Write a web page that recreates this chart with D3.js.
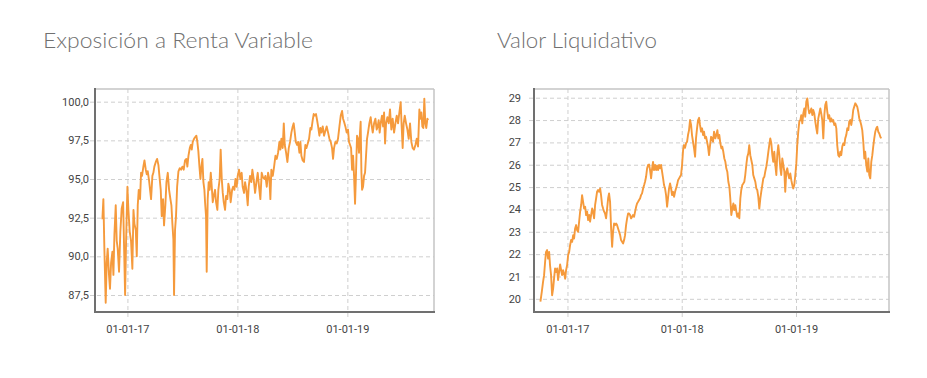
<!DOCTYPE html>
<html><head><meta charset="utf-8">
<script src="https://cdn.jsdelivr.net/npm/d3@7"></script>
<style>body{margin:0;background:#fff}</style>
</head><body><svg id="c" width="927" height="378"></svg>
<script>
// ---------- DATA ----------
const titles = ["Exposición a Renta Variable", "Valor Liquidativo"];

// Exposición a Renta Variable (%), dates as decimal years
const expYears = [
2016.773,2016.782,2016.791,2016.803,2016.812,2016.821,2016.833,2016.842,2016.852,2016.864,2016.873,2016.882,2016.894,2016.903,2016.912,2016.924,2016.936,2016.948,2016.961,2016.970,2016.979,2016.988,
2017.000,2017.009,2017.021,2017.033,2017.045,2017.055,2017.064,2017.076,2017.085,2017.094,2017.103,2017.115,2017.124,2017.133,2017.145,2017.155,2017.167,2017.176,2017.185,2017.197,2017.206,2017.215,2017.227,2017.236,2017.245,2017.258,2017.270,2017.282,2017.291,2017.303,2017.312,2017.324,2017.333,2017.345,2017.355,2017.367,2017.379,2017.391,2017.400,2017.409,2017.418,2017.424,2017.433,2017.442,2017.452,2017.464,2017.476,2017.488,2017.500,2017.512,2017.524,2017.536,2017.545,2017.555,2017.567,2017.576,2017.585,2017.594,2017.606,2017.615,2017.627,2017.636,2017.645,2017.655,2017.664,2017.673,2017.682,2017.691,2017.700,2017.706,2017.715,2017.721,2017.730,2017.739,2017.748,2017.758,2017.767,2017.776,2017.785,2017.797,2017.806,2017.818,2017.827,2017.839,2017.848,2017.858,2017.867,2017.876,2017.888,2017.897,2017.909,2017.918,2017.930,2017.939,2017.952,2017.961,2017.973,2017.982,2017.994,
2018.003,2018.015,2018.027,2018.039,2018.048,2018.061,2018.070,2018.082,2018.094,2018.103,2018.115,2018.127,2018.136,2018.148,2018.161,2018.173,2018.185,2018.197,2018.209,2018.221,2018.233,2018.245,2018.255,2018.267,2018.279,2018.291,2018.300,2018.309,2018.322,2018.334,2018.346,2018.358,2018.370,2018.382,2018.391,2018.400,2018.412,2018.422,2018.431,2018.443,2018.455,2018.467,2018.479,2018.491,2018.503,2018.512,2018.522,2018.531,2018.543,2018.552,2018.564,2018.573,2018.582,2018.594,2018.606,2018.618,2018.628,2018.640,2018.652,2018.664,2018.673,2018.685,2018.694,2018.703,2018.715,2018.725,2018.734,2018.746,2018.755,2018.764,2018.776,2018.788,2018.800,2018.812,2018.825,2018.837,2018.849,2018.861,2018.870,2018.879,2018.891,2018.903,2018.915,2018.928,2018.940,2018.952,2018.961,2018.970,2018.982,2018.994,
2019.006,2019.015,2019.025,2019.034,2019.043,2019.052,2019.061,2019.070,2019.079,2019.088,2019.097,2019.106,2019.115,2019.121,2019.128,2019.134,2019.143,2019.152,2019.161,2019.170,2019.179,2019.188,2019.200,2019.212,2019.222,2019.231,2019.243,2019.255,2019.267,2019.276,2019.285,2019.294,2019.303,2019.315,2019.325,2019.334,2019.343,2019.352,2019.364,2019.376,2019.388,2019.400,2019.412,2019.425,2019.437,2019.449,2019.461,2019.473,2019.485,2019.494,2019.503,2019.512,2019.522,2019.534,2019.546,2019.558,2019.570,2019.582,2019.594,2019.606,2019.619,2019.631,2019.643,2019.655,2019.664,2019.673,2019.682,2019.691,2019.700,2019.709,2019.718,2019.728,2019.734];
const expValues = [
92.4,93.7,90.5,87.0,89.6,90.5,88.8,87.9,89.6,90.3,88.8,91.4,93.3,91.0,90.5,89.0,91.6,93.1,93.5,90.5,87.5,91.0,
94.5,93.0,91.6,91.0,89.2,93.0,92.1,91.7,90.0,93.3,94.3,93.7,95.4,95.2,95.8,96.2,95.6,95.3,95.5,94.9,94.3,93.7,95.2,95.4,95.8,96.1,96.3,95.9,95.2,94.3,92.6,93.7,92.0,93.3,94.8,95.4,94.3,93.7,93.3,92.1,91.1,87.5,91.7,92.6,94.5,95.5,95.7,95.6,95.8,95.6,96.2,96.3,95.8,96.5,97.0,97.2,96.9,97.4,97.6,97.7,97.8,97.4,96.8,95.8,95.0,95.8,96.3,94.8,94.3,93.5,92.6,89.0,93.7,94.8,94.3,95.4,94.5,93.5,93.9,94.3,93.5,93.0,94.3,95.0,96.9,95.0,94.1,93.5,93.0,93.9,93.7,94.7,94.3,93.5,94.3,94.5,94.3,95.0,94.5,
95.2,95.6,95.0,95.4,94.5,94.1,94.8,94.3,93.3,94.5,95.2,94.8,95.6,95.0,94.1,94.8,95.4,94.5,93.7,95.4,95.1,95.0,95.2,94.5,95.4,95.0,93.7,95.6,95.2,95.8,96.5,96.3,96.7,97.4,96.9,97.6,97.0,98.6,97.2,96.7,96.1,97.0,97.4,98.0,98.4,98.6,98.0,97.4,97.2,97.4,96.7,97.4,96.5,96.2,96.1,97.2,97.0,97.3,97.6,98.3,98.2,98.8,99.2,99.1,99.2,98.8,98.4,97.8,98.3,98.0,98.4,97.8,98.1,98.4,98.0,97.6,97.4,97.0,96.3,97.0,97.4,97.3,97.6,98.4,99.1,99.4,98.9,98.7,98.4,98.0,
98.2,97.4,97.2,97.0,95.6,96.5,95.2,93.4,95.4,97.8,97.6,96.7,98.0,98.7,95.4,94.3,94.5,95.2,95.4,96.5,97.6,98.0,98.6,99.0,98.4,98.0,98.6,98.9,98.2,98.4,98.8,98.0,98.6,99.1,98.4,99.3,97.3,98.6,99.0,98.6,99.5,98.2,98.9,98.0,98.6,99.1,98.6,99.3,99.96,98.4,97.0,98.6,99.1,98.6,98.2,97.6,98.6,97.4,97.0,96.9,97.2,97.6,97.1,99.5,98.9,99.3,98.4,98.3,100.2,98.6,98.3,98.9,98.8];

// Valor Liquidativo, dates as decimal years
const nlvYears = [
2016.764,2016.776,2016.787,2016.796,2016.805,2016.813,2016.822,2016.831,2016.840,2016.848,2016.857,2016.866,2016.875,2016.883,2016.892,2016.901,2016.910,2016.918,2016.927,2016.936,2016.945,2016.953,2016.962,2016.971,2016.980,2016.988,2016.997,
2017.006,2017.015,2017.023,2017.032,2017.041,2017.050,2017.058,2017.067,2017.076,2017.085,2017.093,2017.102,2017.111,2017.120,2017.128,2017.137,2017.146,2017.155,2017.163,2017.172,2017.181,2017.190,2017.198,2017.207,2017.216,2017.224,2017.233,2017.242,2017.251,2017.259,2017.268,2017.277,2017.286,2017.294,2017.303,2017.312,2017.321,2017.329,2017.338,2017.347,2017.356,2017.364,2017.373,2017.382,2017.391,2017.399,2017.408,2017.417,2017.426,2017.434,2017.443,2017.452,2017.461,2017.469,2017.478,2017.487,2017.496,2017.504,2017.513,2017.522,2017.531,2017.539,2017.548,2017.557,2017.566,2017.574,2017.583,2017.592,2017.601,2017.609,2017.618,2017.627,2017.636,2017.644,2017.653,2017.662,2017.671,2017.679,2017.688,2017.697,2017.706,2017.714,2017.723,2017.732,2017.741,2017.749,2017.758,2017.767,2017.776,2017.784,2017.793,2017.802,2017.810,2017.819,2017.828,2017.837,2017.845,2017.854,2017.863,2017.872,2017.880,2017.889,2017.898,2017.907,2017.915,2017.924,2017.933,2017.942,2017.950,2017.959,2017.968,2017.977,2017.985,2017.994,
2018.003,2018.012,2018.020,2018.029,2018.038,2018.047,2018.055,2018.064,2018.073,2018.082,2018.090,2018.099,2018.108,2018.117,2018.125,2018.134,2018.143,2018.152,2018.160,2018.169,2018.178,2018.187,2018.195,2018.204,2018.213,2018.222,2018.230,2018.239,2018.248,2018.257,2018.265,2018.274,2018.283,2018.294,2018.303,2018.312,2018.320,2018.329,2018.338,2018.347,2018.355,2018.364,2018.373,2018.382,2018.390,2018.399,2018.408,2018.417,2018.425,2018.434,2018.443,2018.452,2018.460,2018.469,2018.478,2018.486,2018.495,2018.504,2018.513,2018.521,2018.530,2018.539,2018.548,2018.556,2018.565,2018.574,2018.583,2018.591,2018.600,2018.609,2018.618,2018.626,2018.635,2018.644,2018.653,2018.661,2018.670,2018.679,2018.688,2018.696,2018.705,2018.714,2018.723,2018.731,2018.740,2018.749,2018.758,2018.766,2018.775,2018.784,2018.793,2018.801,2018.810,2018.819,2018.828,2018.836,2018.845,2018.854,2018.863,2018.871,2018.880,2018.889,2018.898,2018.906,2018.915,2018.924,2018.933,2018.941,2018.950,2018.959,2018.968,2018.976,2018.985,2018.994,
2019.003,2019.011,2019.020,2019.029,2019.038,2019.046,2019.055,2019.064,2019.073,2019.081,2019.090,2019.099,2019.108,2019.116,2019.125,2019.134,2019.143,2019.151,2019.160,2019.169,2019.178,2019.186,2019.195,2019.204,2019.213,2019.221,2019.230,2019.239,2019.248,2019.256,2019.265,2019.274,2019.283,2019.291,2019.300,2019.309,2019.318,2019.326,2019.335,2019.344,2019.353,2019.361,2019.370,2019.379,2019.388,2019.396,2019.405,2019.414,2019.423,2019.431,2019.440,2019.449,2019.458,2019.466,2019.475,2019.484,2019.493,2019.501,2019.510,2019.519,2019.528,2019.536,2019.545,2019.554,2019.563,2019.571,2019.580,2019.589,2019.598,2019.606,2019.615,2019.624,2019.633,2019.641,2019.650,2019.659,2019.668,2019.676,2019.685,2019.694,2019.703,2019.711,2019.720,2019.729,2019.738,2019.746];
const nlvValues = [
19.87,20.31,20.76,21.06,21.66,22.10,22.18,21.80,22.10,21.50,21.06,20.16,20.46,20.90,21.36,21.20,21.36,20.84,21.20,21.54,21.28,21.06,21.28,21.13,20.90,21.28,21.51,
21.96,22.10,22.40,22.63,22.55,22.85,22.70,23.15,23.30,23.07,23.00,23.45,23.90,24.20,24.64,24.34,24.04,24.12,23.75,23.90,23.52,23.75,23.45,23.75,24.04,23.90,23.60,24.20,24.50,24.79,24.87,24.79,24.94,24.64,24.20,24.04,23.90,23.82,23.60,24.04,24.50,24.72,24.34,23.15,22.33,23.00,23.37,23.30,23.37,23.30,23.15,23.00,22.85,22.63,22.55,22.48,22.63,22.85,23.30,23.60,23.82,23.82,23.75,23.60,23.67,23.75,23.67,23.90,24.12,24.27,24.34,24.42,24.50,24.64,24.72,24.94,25.09,25.24,25.46,25.84,25.99,26.01,25.76,25.39,25.84,26.13,25.76,25.99,25.76,25.96,25.76,25.99,25.84,25.99,25.69,25.39,25.09,24.94,24.64,24.12,24.50,24.94,25.16,24.94,24.64,24.79,24.57,24.79,24.94,25.09,25.31,25.39,25.46,25.54,
25.99,26.66,26.88,26.76,26.96,27.03,27.33,27.55,28.00,27.78,27.33,27.03,26.73,26.36,27.18,27.63,28.00,28.10,27.78,27.48,27.63,27.33,27.48,27.18,27.25,27.03,26.81,26.43,26.88,27.25,27.20,27.03,27.48,27.18,27.33,27.55,27.18,27.33,26.96,26.73,26.81,26.58,26.28,26.13,25.84,25.69,25.24,25.01,24.49,23.75,24.04,24.27,23.97,24.19,23.90,23.67,23.82,23.60,24.49,24.87,25.09,25.16,25.24,25.54,25.99,26.36,26.51,26.88,26.43,26.21,25.99,25.54,25.39,25.24,24.94,24.87,24.57,24.04,24.49,24.79,25.09,25.39,25.46,25.69,25.91,26.21,26.58,26.88,27.18,26.96,26.43,26.13,26.58,25.99,25.54,26.43,26.88,26.43,25.84,25.54,26.28,25.99,25.69,24.79,25.69,25.84,25.54,25.39,25.61,25.31,25.09,24.94,25.09,25.54,
26.06,26.88,27.48,27.93,28.00,28.22,27.85,28.30,28.52,28.15,28.82,28.97,28.52,28.30,28.37,28.52,28.22,28.45,28.30,27.93,27.63,27.40,28.07,28.30,28.52,28.30,28.00,27.18,28.22,28.67,28.82,28.37,28.07,28.22,27.93,28.07,27.93,28.00,27.78,27.85,27.63,26.88,26.43,26.36,26.58,26.43,26.81,26.96,26.88,27.18,27.33,27.63,27.55,27.93,28.00,27.78,28.07,28.45,28.60,28.75,28.67,28.60,28.37,28.07,27.93,27.78,27.55,27.03,26.28,26.58,25.99,25.69,26.28,25.54,25.39,26.13,26.43,26.81,27.18,27.48,27.63,27.70,27.48,27.40,27.25,27.18];

const expTicks = [87.5, 90, 92.5, 95, 97.5, 100];
const nlvTicks = [20, 21, 22, 23, 24, 25, 26, 27, 28, 29];
const dateTicks = ["2017-01-01", "2018-01-01", "2019-01-01"];

// ---------- HELPERS ----------
function toDate(t) {
  const y = Math.floor(t);
  const a = new Date(y, 0, 1), b = new Date(y + 1, 0, 1);
  return new Date(+a + (t - y) * (b - a));
}
const esLocale = d3.formatLocale({decimal: ",", thousands: ".", grouping: [3], currency: ["", " €"]});
const parseDay = d3.timeParse("%Y-%m-%d");
const fmtDate = d3.timeFormat("%d-%m-%y");

const svg = d3.select("#c");
const LINE = "#f59a3c";

function drawChart(o) {
  const g = svg.append("g");
  const x = d3.scaleTime().domain(o.xDomain.map(toDate)).range([o.left, o.right]);
  const y = d3.scaleLinear().domain(o.yDomain).range([o.bottom, o.top]);
  const w = o.right - o.left, h = o.bottom - o.top;

  // title
  svg.append("text").attr("x", o.titleX).attr("y", 48)
    .attr("font-family", "Lato, 'Open Sans', sans-serif").attr("font-weight", 300)
    .attr("font-size", 21).attr("fill", "#707070").attr("textLength", o.titleW)
    .attr("lengthAdjust", "spacingAndGlyphs")
    .text(o.title);

  // y axis with grid
  const ya = g.append("g").attr("transform", `translate(${o.left},0)`)
    .call(d3.axisLeft(y).tickValues(o.yTicks).tickSize(-w).tickPadding(o.yPad).tickFormat(o.yFmt));
  ya.select(".domain").remove();
  ya.selectAll("line").attr("x1", -5).attr("stroke", "#cfcfcf").attr("stroke-dasharray", "4,3");
  ya.selectAll("text").attr("font-family", "Roboto, sans-serif").attr("font-size", 11).attr("fill", "#444");

  // x axis with grid
  const xa = g.append("g").attr("transform", `translate(0,${o.bottom})`)
    .call(d3.axisBottom(x).tickValues(dateTicks.map(parseDay)).tickSize(-h).tickPadding(13).tickFormat(fmtDate));
  xa.select(".domain").remove();
  xa.selectAll("line").attr("y1", 5).attr("stroke", "#cfcfcf").attr("stroke-dasharray", "4,3");
  xa.selectAll("text").attr("font-family", "Roboto, sans-serif").attr("font-size", 11).attr("fill", "#444");

  // frame
  g.append("line").attr("x1", o.left).attr("x2", o.right).attr("y1", o.top).attr("y2", o.top)
    .attr("stroke", "#c4c4c4").attr("stroke-width", 1.5);
  g.append("line").attr("x1", o.right).attr("x2", o.right).attr("y1", o.top).attr("y2", o.bottom)
    .attr("stroke", "#c4c4c4").attr("stroke-width", 1.5);

  // line
  const data = o.years.map((t, i) => ({d: toDate(t), v: o.values[i]}));
  g.append("path").datum(data)
    .attr("fill", "none").attr("stroke", LINE).attr("stroke-width", 1.9).attr("stroke-linejoin", "round")
    .attr("d", d3.line().x(d => x(d.d)).y(d => y(d.v)));

  g.append("line").attr("x1", o.left).attr("x2", o.left).attr("y1", o.top - 1).attr("y2", o.bottom + 1)
    .attr("stroke", "#707070").attr("stroke-width", 2);
  g.append("line").attr("x1", o.left - 1).attr("x2", o.right + 1).attr("y1", o.bottom).attr("y2", o.bottom)
    .attr("stroke", "#707070").attr("stroke-width", 2);
}

drawChart({
  title: titles[0], titleX: 43, titleW: 270,
  left: 95, right: 434, top: 89, bottom: 312,
  xDomain: [2016.706, 2019.788], yDomain: [86.4, 100.82],
  yTicks: expTicks, yFmt: esLocale.format(".1f"), yPad: 6,
  years: expYears, values: expValues
});
drawChart({
  title: titles[1], titleX: 497, titleW: 160,
  left: 534, right: 889, top: 89, bottom: 312,
  xDomain: [2016.708, 2019.814], yDomain: [19.41, 29.39],
  yTicks: nlvTicks, yFmt: d3.format("d"), yPad: 13,
  years: nlvYears, values: nlvValues
});
</script></body></html>
